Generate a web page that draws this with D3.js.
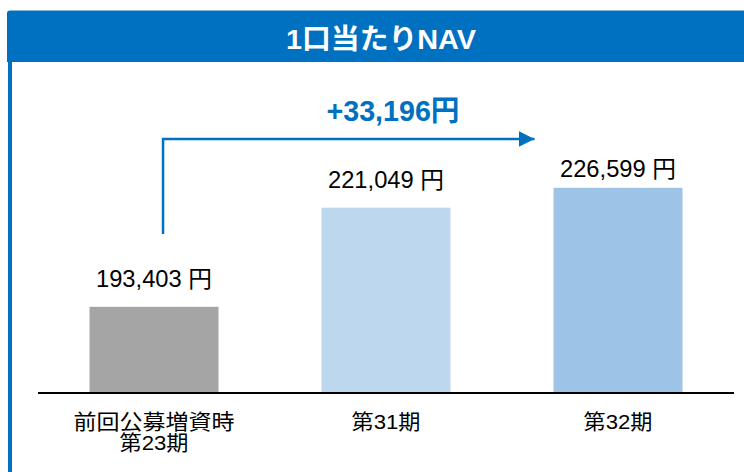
<!DOCTYPE html>
<html>
<head>
<meta charset="utf-8">
<script src="https://cdn.jsdelivr.net/npm/d3@7"></script>
<style>
  body { margin: 0; background: #fff; }
  svg { display: block; }
</style>
</head>
<body>
<div id="chart"></div>
<script>
// data
var categories = ["前回公募増資時\n第23期", "第31期", "第32期"];
var navValues = [193403, 221049, 226599];
var valueLabels = ["193,403 円", "221,049 円", "226,599 円"];
var titleText = "1口当たりNAV";
var diffLabel = "+33,196円";

var barColors = ["#a5a5a5", "#bdd7ee", "#9dc3e6"];
var labelGap = [20, 20, 11];

var svgWidth = 744;
var svgHeight = 472;
var blue = "#0070c0";
var jp = "'Liberation Sans', 'Noto Sans CJK JP', sans-serif";

var svg = d3.select("#chart")
  .append("svg")
  .attr("width", svgWidth)
  .attr("height", svgHeight);

// frame: header band + left rule
svg.append("rect")
  .attr("x", 8).attr("y", 60)
  .attr("width", 4).attr("height", svgHeight - 60)
  .attr("fill", blue);

svg.append("path")
  .attr("d", "M7,62 V13 Q7,10.5 10,10.5 H744 V62 Z")
  .attr("fill", blue);

svg.append("text")
  .attr("x", 381).attr("y", 49)
  .attr("text-anchor", "middle")
  .attr("font-family", jp)
  .attr("font-size", 28)
  .attr("font-weight", "bold")
  .attr("fill", "#fff")
  .attr("textLength", 190)
  .attr("lengthAdjust", "spacingAndGlyphs")
  .text(titleText);

// scales
var x = d3.scaleBand()
  .domain(categories)
  .range([38, 734])
  .paddingInner(0.444)
  .paddingOuter(0.222);

var y = d3.scaleLinear()
  .domain([169500, 230000])
  .range([392.5, 175.6]);

var chart = svg.append("g");

chart.selectAll("rect.bar")
  .data(navValues)
  .enter()
  .append("rect")
  .attr("class", "bar")
  .attr("x", (d, i) => x(categories[i]))
  .attr("y", d => y(d))
  .attr("width", x.bandwidth())
  .attr("height", d => y.range()[0] - y(d))
  .attr("fill", (d, i) => barColors[i]);

// baseline
var xAxis = d3.axisBottom(x).tickSize(0).tickFormat("");
var axisG = chart.append("g")
  .attr("transform", "translate(0," + y.range()[0] + ")")
  .call(xAxis);
axisG.select(".domain")
  .attr("d", "M38,0.5H734")
  .attr("stroke", "#000")
  .attr("stroke-width", 2);

// category labels
categories.forEach((c, i) => {
  var lines = c.split("\n");
  var cx = x(c) + x.bandwidth() / 2;
  lines.forEach((ln, j) => {
    var n = 0;
    for (var ch of ln) n += /[0-9]/.test(ch) ? 0.5 : 1;
    chart.append("text")
      .attr("x", cx)
      .attr("y", 429 + j * 21)
      .attr("text-anchor", "middle")
      .attr("font-family", jp)
      .attr("font-size", 21)
      .attr("fill", "#000")
      .attr("textLength", n * 23)
      .attr("lengthAdjust", "spacingAndGlyphs")
      .text(ln);
  });
});

// value labels
chart.selectAll("text.val")
  .data(navValues)
  .enter()
  .append("text")
  .attr("class", "val")
  .attr("x", (d, i) => x(categories[i]) + x.bandwidth() / 2)
  .attr("y", (d, i) => y(d) - labelGap[i])
  .attr("text-anchor", "middle")
  .attr("font-family", jp)
  .attr("font-size", 23)
  .attr("fill", "#000")
  .attr("textLength", 116)
  .attr("lengthAdjust", "spacingAndGlyphs")
  .text((d, i) => valueLabels[i]);

// growth arrow
var ax = x(categories[0]) + x.bandwidth() * 0.57;
var ay = 139;
var tip = x(categories[2]) - 15;

svg.append("defs").append("marker")
  .attr("id", "head")
  .attr("viewBox", "0 0 16 16")
  .attr("refX", 16).attr("refY", 8)
  .attr("markerWidth", 16).attr("markerHeight", 16)
  .attr("markerUnits", "userSpaceOnUse")
  .attr("orient", "auto")
  .append("path")
  .attr("d", "M0,0 L16,8 L0,16 Z")
  .attr("fill", blue);

chart.append("path")
  .attr("d", "M" + ax + ",234 V" + ay + " H" + (tip - 4))
  .attr("fill", "none")
  .attr("stroke", blue)
  .attr("stroke-width", 2.5)
  .attr("marker-end", "url(#head)");

chart.append("text")
  .attr("x", 393).attr("y", 121)
  .attr("text-anchor", "middle")
  .attr("font-family", jp)
  .attr("font-size", 29)
  .attr("font-weight", "bold")
  .attr("fill", blue)
  .attr("textLength", 133)
  .attr("lengthAdjust", "spacingAndGlyphs")
  .text(diffLabel);
</script>
</body>
</html>
